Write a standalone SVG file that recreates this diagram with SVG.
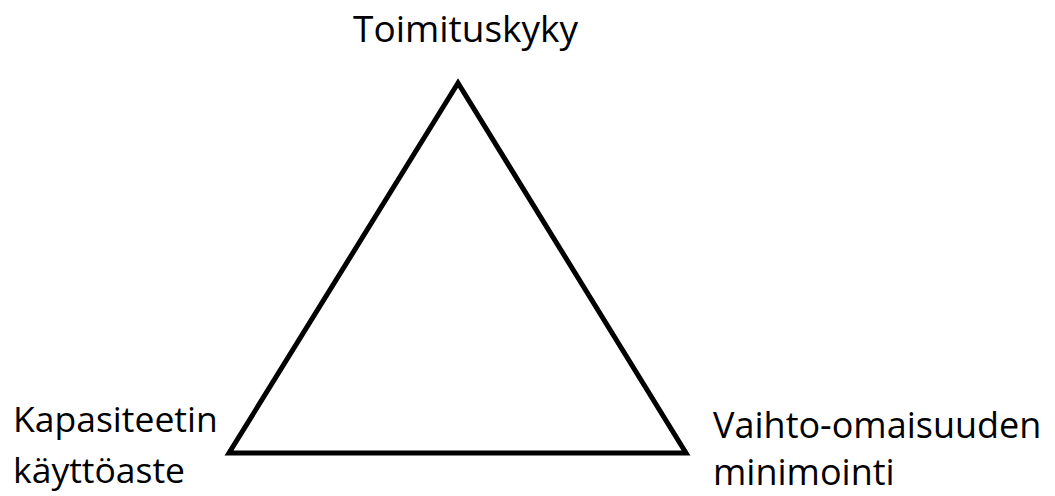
<svg xmlns="http://www.w3.org/2000/svg" width="1055" height="496" viewBox="0 0 1055 496">
<style>
.t{font-family:"Open Sans","Noto Sans",sans-serif;fill:#000;}
.edge{fill:none;stroke:#000;stroke-width:5;stroke-linejoin:miter;}
</style>
<rect width="1055" height="496" fill="#fff"/>
<g id="connectors">
<polygon class="edge" points="458,83 229,453 686,453"/>
</g>
<g id="node-toimituskyky"><text class="t" x="353" y="42" font-size="37">Toimituskyky</text></g>
<g id="node-kapasiteetin"><text class="t" x="13" y="432" font-size="35.5">Kapasiteetin</text><text class="t" x="13" y="483" font-size="35.5">käyttöaste</text></g>
<g id="node-vaihto"><text class="t" x="713" y="438" font-size="36">Vaihto-omaisuuden</text><text class="t" x="713" y="485" font-size="36">minimointi</text></g>
</svg>
